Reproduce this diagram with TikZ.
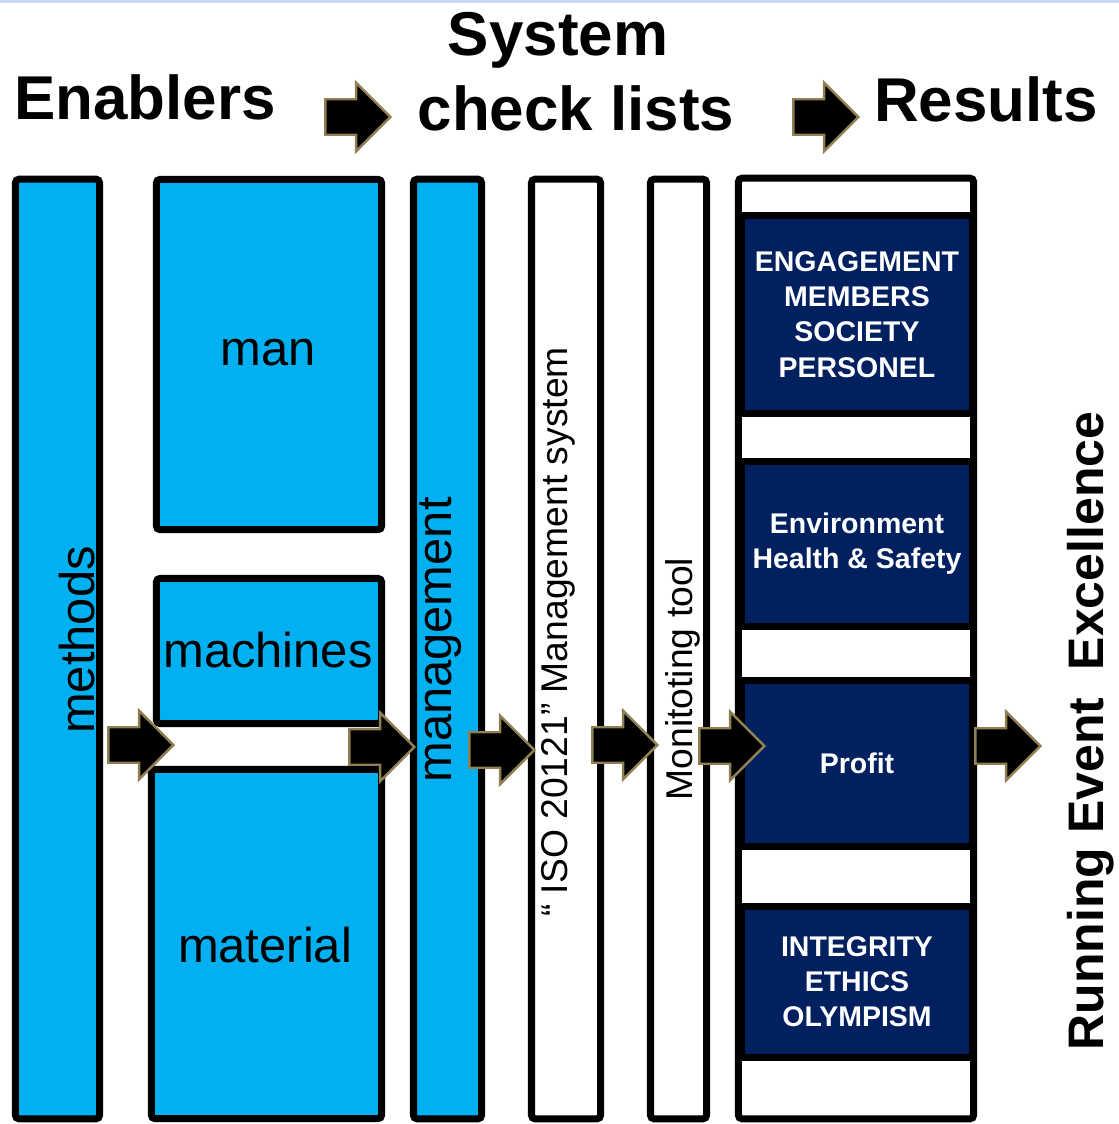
\documentclass[tikz,border=0pt]{standalone}
\usepackage{fontspec}
\setmainfont{Liberation Sans}
\usetikzlibrary{shapes.arrows}

\definecolor{enablerblue}{HTML}{00B0F0}
\definecolor{resultnavy}{HTML}{002060}
\definecolor{arrowrim}{HTML}{8F7F52}
\definecolor{topline}{HTML}{C6D9F1}

\tikzset{
  enabler/.style={draw=black, fill=enablerblue, line width=2pt, rounded corners=1pt, inner sep=0pt},
  checkbox/.style={draw=black, fill=white, line width=2pt, rounded corners=1pt, inner sep=0pt},
  result/.style={draw=black, fill=resultnavy, line width=2pt, text=white, align=center,
    font=\fontsize{8.1}{10}\selectfont\bfseries, minimum width=23.1mm, inner sep=0pt},
  blockarrow/.style={single arrow, fill=black, draw=arrowrim, line width=0.7pt,
    minimum height=6.5mm, inner xsep=0pt, inner ysep=1.65mm, single arrow head extend=1.65mm},
  heading/.style={font=\fontsize{17.6}{21.3}\selectfont\bfseries, inner sep=0pt, anchor=base},
  boxlabel/.style={font=\fontsize{13.9}{16}\selectfont, inner sep=0pt},
  smalllabel/.style={font=\fontsize{10.6}{12}\selectfont, inner sep=0pt}
}

\begin{document}
\begin{tikzpicture}[x=0.01cm, y=-0.01cm]
\useasboundingbox (0,0) rectangle (1119,1124);
\fill[topline] (0,0) rectangle (1119,3);

% headings
\node[heading] (enablers) at (145,120) {Enablers};
\node[heading] (system) at (558,55) {System};
\node[heading] (checklists) at (576,130) {check lists};
\node[heading] (results) at (986,121) {Results};

% enablers
\node[enabler, minimum width=8.4mm, minimum height=93.9mm] (methods) at (57.5,649) {};
\node[enabler, minimum width=22.5mm, minimum height=35mm] (man) at (269,354.5) {};
\node[enabler, minimum width=22.5mm, minimum height=14.5mm] (machines) at (269,651) {};
\node[enabler, minimum width=23mm, minimum height=34.9mm] (material) at (266.5,944) {};
\node[enabler, minimum width=6.8mm, minimum height=93.9mm] (management) at (447.5,649) {};

% check lists
\node[checkbox, minimum width=6.9mm, minimum height=93.9mm] (iso) at (566,649) {};
\node[checkbox, minimum width=5.6mm, minimum height=93.9mm] (monitor) at (678.5,649) {};

% results
\node[checkbox, minimum width=23.5mm, minimum height=94mm] (resultcol) at (856,648.5) {};
\node[result, minimum height=19.8mm] (engagement) at (857,314.5) {ENGAGEMENT\\MEMBERS\\SOCIETY\\PERSONEL};
\node[result, minimum height=16.5mm] (environment) at (857,544) {Environment\\Health \& Safety};
\node[result, minimum height=16.6mm] (profit) at (857,763.5) {Profit};
\node[result, minimum height=15.1mm] (integrity) at (857,982) {INTEGRITY\\ETHICS\\OLYMPISM};

% arrows
\node[blockarrow] (harrow1) at (349,117) {};
\node[blockarrow] (harrow2) at (817,117) {};
\node[blockarrow] (arrow1) at (132,745) {};
\node[blockarrow] (arrow2) at (373,747) {};
\node[blockarrow] (arrow3) at (493,750) {};
\node[blockarrow] (arrow4) at (616,745) {};
\node[blockarrow] (arrow5) at (723,746) {};
\node[blockarrow] (arrow6) at (999,746) {};

% labels
\node[boxlabel, rotate=90] (methodstext) at (77,640) {methods};
\node[boxlabel] (mantext) at (268,353) {man};
\node[boxlabel] (machinestext) at (268,650) {machines};
\node[boxlabel] (materialtext) at (265,945) {material};
\node[boxlabel, rotate=90] (managementtext) at (441,640) {management};
\node[smalllabel, rotate=90] (isotext) at (558,632) {“ ISO 20121” Management system};
\node[smalllabel, rotate=90] (monitortext) at (683,679) {Monitoting tool};
\node[boxlabel, font=\fontsize{14.2}{16}\selectfont\bfseries, rotate=90] (excellence) at (1091,731) {Running Event\ \ Excellence};
\end{tikzpicture}
\end{document}
